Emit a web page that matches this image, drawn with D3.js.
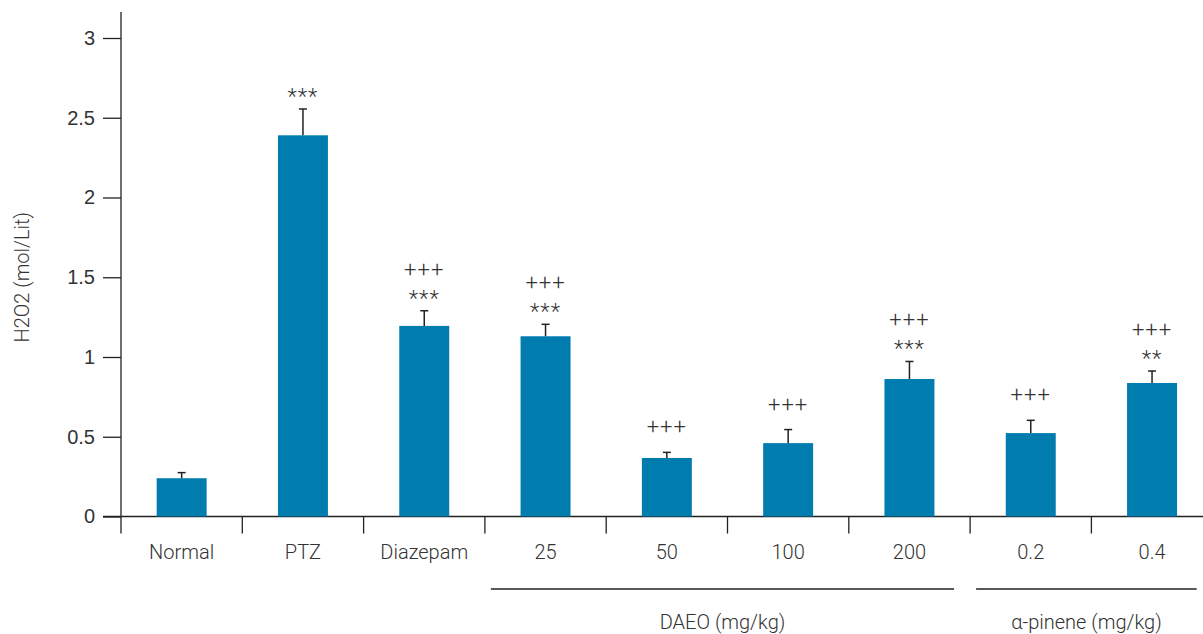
<!DOCTYPE html>
<html>
<head>
<meta charset="utf-8">
<script src="https://cdn.jsdelivr.net/npm/d3@7/dist/d3.min.js"></script>
<style>
  html, body { margin: 0; padding: 0; background: #fff; }
  svg { display: block; font-family: "Roboto", "Noto Sans", sans-serif; }
</style>
</head>
<body>
<svg id="chart" width="1203" height="634"></svg>
<script>
// H2O2 levels per treatment group (mean and SEM)
const categories = ["Normal", "PTZ", "Diazepam", "25", "50", "100", "200", "0.2", "0.4"];
const means      = [0.24, 2.39, 1.195, 1.13, 0.367, 0.46, 0.862, 0.523, 0.837];
const errors     = [0.035, 0.165, 0.095, 0.075, 0.035, 0.085, 0.11, 0.08, 0.075];
const starMarks  = ["", "***", "***", "***", "", "", "***", "", "**"];
const plusMarks  = ["", "", "+++", "+++", "+++", "+++", "+++", "+++", "+++"];
const yTicks     = [0, 0.5, 1, 1.5, 2, 2.5, 3];
const groupNames = ["DAEO (mg/kg)", "\u03b1-pinene (mg/kg)"];
const groupFirst = ["25", "0.2"];
const groupLast  = ["200", "0.4"];
const yLabel     = "H2O2 (mol/Lit)";

const svg = d3.select("#chart");
const axisColor = "#222";
const textColor = "#333";
const barColor = "#007dae";
const fontSize = "20px";

const left = 121, zeroY = 516.5, topY = 38;
const step = 121.3;

const x = d3.scaleBand()
  .domain(categories)
  .range([left, left + step * categories.length])
  .paddingInner(0.588)
  .paddingOuter(0.294);

const y = d3.scaleLinear().domain([0, 3]).range([zeroY, topY]);

// y axis
const yAxis = d3.axisLeft(y).tickValues(yTicks).tickSize(18).tickPadding(8)
  .tickFormat(d => String(d));
const gy = svg.append("g").attr("transform", `translate(${left},0)`).call(yAxis);
gy.select(".domain").remove();
gy.selectAll(".tick line").attr("stroke", axisColor).attr("stroke-width", 1.3);
gy.selectAll(".tick text").attr("fill", textColor).style("font-size", fontSize).style("font-weight", 300);
svg.append("line")
  .attr("x1", left).attr("x2", left)
  .attr("y1", 12).attr("y2", zeroY + 17)
  .attr("stroke", axisColor).attr("stroke-width", 1.3);

// x axis baseline
svg.append("line")
  .attr("x1", left - 18).attr("x2", 1203)
  .attr("y1", zeroY).attr("y2", zeroY)
  .attr("stroke", axisColor).attr("stroke-width", 1.3);

// separators between categories
const bounds = d3.range(1, categories.length + 1).map(i => x.range()[0] + i * x.step());
svg.append("g").selectAll("line").data(bounds).join("line")
  .attr("x1", d => d).attr("x2", d => d)
  .attr("y1", zeroY).attr("y2", zeroY + 17)
  .attr("stroke", axisColor).attr("stroke-width", 1.3);

// category labels
svg.append("g").selectAll("text").data(categories).join("text")
  .attr("x", d => x(d) + x.bandwidth() / 2)
  .attr("y", 559)
  .attr("text-anchor", "middle")
  .attr("fill", textColor)
  .style("font-size", fontSize).style("font-weight", 300)
  .text(d => d);

// y axis title
svg.append("text")
  .attr("transform", `translate(29,${(zeroY + topY) / 2}) rotate(-90)`)
  .attr("text-anchor", "middle")
  .attr("fill", textColor)
  .style("font-size", fontSize).style("font-weight", 300)
  .text(yLabel);

const rows = categories.map((c, i) => ({ c, m: means[i], e: errors[i], s: starMarks[i], p: plusMarks[i] }));

// bars
svg.append("g").selectAll("rect").data(rows).join("rect")
  .attr("x", d => x(d.c))
  .attr("width", x.bandwidth())
  .attr("y", d => y(d.m))
  .attr("height", d => y(0) - y(d.m))
  .attr("fill", barColor);

// error bars
const eb = svg.append("g").attr("stroke", axisColor).attr("stroke-width", 1.5);
rows.forEach(d => {
  const cx = x(d.c) + x.bandwidth() / 2;
  eb.append("line").attr("x1", cx).attr("x2", cx).attr("y1", y(d.m)).attr("y2", y(d.m + d.e));
  eb.append("line").attr("x1", cx - 4).attr("x2", cx + 4).attr("y1", y(d.m + d.e)).attr("y2", y(d.m + d.e));
});

// significance marks
const marks = svg.append("g").attr("fill", textColor).attr("text-anchor", "middle")
  .style("font-size", "22px").style("font-weight", 300).style("letter-spacing", "1px");
rows.forEach(d => {
  const cx = x(d.c) + x.bandwidth() / 2;
  const top = y(d.m + d.e);
  if (d.s) {
    marks.append("text").attr("x", cx).attr("y", top - 5).text(d.s);
  }
  if (d.p) {
    marks.append("text").attr("x", cx).attr("y", d.s ? top - 34 : top - 18).text(d.p);
  }
});

// group brackets under the category labels
groupNames.forEach((name, i) => {
  const x0 = x(groupFirst[i]) - x.step() * x.paddingInner() / 2;
  const x1 = x(groupLast[i]) + x.bandwidth() + x.step() * x.paddingInner() / 2;
  const a = x0 + 6, b = x1 - 16;
  svg.append("line").attr("x1", a).attr("x2", b).attr("y1", 589).attr("y2", 589)
    .attr("stroke", axisColor).attr("stroke-width", 1.5);
  svg.append("text").attr("x", (a + b) / 2).attr("y", 629)
    .attr("text-anchor", "middle").attr("fill", textColor)
    .style("font-size", fontSize).style("font-weight", 300)
    .text(name);
});
</script>
</body>
</html>
